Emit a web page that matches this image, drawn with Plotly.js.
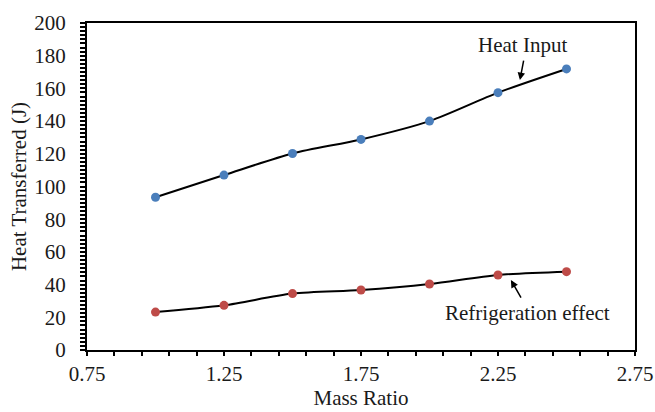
<!DOCTYPE html>
<html>
<head>
<meta charset="utf-8">
<script src="https://cdn.plot.ly/plotly-3.0.1.min.js"></script>
<style>html,body{margin:0;padding:0;background:#fff;}#chart{width:655px;height:412px;}</style>
</head>
<body>
<div id="chart"></div>
<script>
const massRatio = [1.0, 1.25, 1.5, 1.75, 2.0, 2.25, 2.5];
const heatInput = [93.4, 107, 120.2, 128.8, 140, 157.4, 171.9];
const refrigerationEffect = [23.2, 27.3, 34.5, 36.7, 40.4, 45.9, 47.9];
const xTickVals = [0.75, 1.25, 1.75, 2.25, 2.75];
const xTickText = ['0.75', '1.25', '1.75', '2.25', '2.75'];

const FONT = 'Liberation Serif, Times New Roman, serif';
const FS = 21;

const traces = [
  {x: massRatio, y: heatInput, name: 'Heat Input', mode: 'lines+markers',
   line: {color: '#000', width: 2, shape: 'spline', smoothing: 0.8},
   marker: {color: '#4a7ebb', size: 9}},
  {x: massRatio, y: refrigerationEffect, name: 'Refrigeration effect', mode: 'lines+markers',
   line: {color: '#000', width: 2, shape: 'spline', smoothing: 0.8},
   marker: {color: '#be4b48', size: 9}}
];

const layout = {
  width: 655, height: 412,
  margin: {l: 87, r: 20, t: 23, b: 62},
  paper_bgcolor: '#fff', plot_bgcolor: '#fff',
  showlegend: false,
  font: {family: FONT, size: FS, color: '#1a1a1a'},
  xaxis: {
    range: [0.75, 2.75], tickvals: xTickVals, ticktext: xTickText,
    ticks: 'outside', ticklen: 4, tickwidth: 2, tickcolor: '#000',
    minor: {dtick: 0.1, tick0: 0.75, ticks: 'outside', ticklen: 4, tickwidth: 2, tickcolor: '#000', showgrid: false},
    showline: true, linecolor: '#000', linewidth: 2, mirror: true,
    showgrid: false, zeroline: false,
    ticklabelstandoff: 0,
    title: {text: 'Mass Ratio', font: {family: FONT, size: FS, color: '#1a1a1a'}, standoff: 4}
  },
  yaxis: {
    range: [0, 200], dtick: 20, tick0: 0,
    ticks: 'outside', ticklen: 5, tickwidth: 2, tickcolor: '#000',
    minor: {dtick: 2.5, tick0: 0, ticks: 'outside', ticklen: 5, tickwidth: 2, tickcolor: '#000', showgrid: false},
    showline: true, linecolor: '#000', linewidth: 2, mirror: true,
    showgrid: false, zeroline: false,
    ticklabelstandoff: 10,
    title: {text: 'Heat Transferred (J)', font: {family: FONT, size: FS, color: '#1a1a1a'}, standoff: 2}
  },
  annotations: [
    {x: 2.338, y: 186.5, xref: 'x', yref: 'y', text: 'Heat Input', showarrow: false,
     font: {family: FONT, size: FS, color: '#1a1a1a'}},
    {x: 2.330, y: 165.1, xref: 'x', yref: 'y', text: '', showarrow: true,
     ax: 4, ay: -21, arrowhead: 2, arrowsize: 1, arrowwidth: 1.5, arrowcolor: '#000'},
    {x: 2.356, y: 22.6, xref: 'x', yref: 'y', text: 'Refrigeration effect', showarrow: false,
     font: {family: FONT, size: FS, color: '#1a1a1a'}},
    {x: 2.297, y: 42.8, xref: 'x', yref: 'y', text: '', showarrow: true,
     ax: 11, ay: 19, arrowhead: 2, arrowsize: 1, arrowwidth: 1.5, arrowcolor: '#000'}
  ]
};

Plotly.newPlot('chart', traces, layout, {displayModeBar: false, staticPlot: true});
</script>
</body>
</html>
